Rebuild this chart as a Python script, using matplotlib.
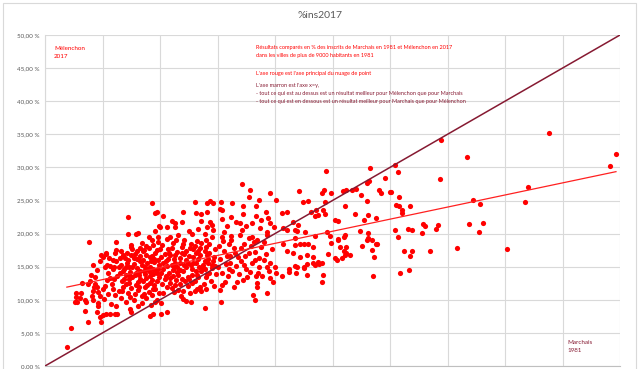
import numpy as np
import matplotlib
matplotlib.use('Agg')
import matplotlib.pyplot as plt
from matplotlib.patches import Rectangle

plt.rcParams['font.family'] = ['Lato', 'DejaVu Sans']

# (Marchais 1981 %, Mélenchon 2017 %), grouped by x band
pts_left = [
    (1.9, 2.9), (2.3, 5.8), (3.7, 6.6), (2.7, 10.4), (2.6, 9.6), (2.8, 9.7), (3.0, 10.2), (2.7, 11.1),
    (3.1, 11.1), (3.2, 12.5), (3.7, 12.4), (3.5, 10.0), (3.5, 8.3), (3.6, 9.7), (3.8, 18.7), (4.2, 15.3),
    (4.35, 13.5), (4.55, 12.0), (4.6, 11.2), (4.8, 10.6), (4.06, 10.5), (4.2, 11.3), (4.26, 12.0), (4.35, 12.4),
    (4.6, 9.1), (4.55, 8.1), (4.8, 7.4), (4.84, 6.6), (5.07, 7.7), (5.3, 7.85), (4.58, 9.5), (4.87, 16.8),
    (4.8, 15.9), (5.07, 16.4), (5.3, 17.0), (5.36, 13.0), (5.65, 13.25), (5.2, 12.1), (6.2, 18.8), (6.15, 17.5),
    (5.25, 14.9), (5.5, 14.0), (5.9, 14.6), (5.4, 15.3), (5.65, 15.1), (5.65, 7.85), (6.1, 7.85), (6.3, 7.8),
    (5.3, 16.9), (6.1, 17.1), (4.0, 13.8), (4.5, 14.5), (3.9, 12.9), (5.0, 11.6), (5.5, 10.9), (5.8, 12.4),
    (5.1, 10.1), (5.7, 9.3), (5.9, 11.7), (4.2, 10.0), (5.9, 16.0), (6.0, 15.0), (5.6, 16.3),
]

pts_6_10 = [
    (9.3, 24.6), (9.57, 23.1), (9.7, 23.2), (7.25, 22.5), (9.9, 21.1), (7.2, 19.9), (7.9, 19.9), (8.06, 20.1),
    (9.6, 20.4), (9.0, 19.5), (9.3, 19.1), (9.85, 19.5), (7.5, 18.3), (7.45, 18.0), (8.26, 17.9), (8.8, 18.1),
    (8.6, 17.5), (9.4, 18.3), (9.7, 17.5), (9.85, 18.8), (6.5, 16.3), (6.96, 16.3), (7.5, 16.8), (7.8, 16.9),
    (8.26, 16.6), (8.55, 17.3), (8.8, 16.8), (9.1, 16.5), (9.6, 17.0), (7.4, 8.6), (7.5, 8.2), (8.1, 9.0),
    (9.1, 7.55), (9.4, 7.85), (9.6, 9.7), (8.8, 10.2), (9.7, 10.0),
    (6.2, 15.8), (6.6, 15.2), (6.9, 14.6), (7.1, 15.6), (7.4, 14.2), (7.7, 15.4), (8.0, 14.8), (8.3, 15.9),
    (8.6, 14.4), (8.9, 15.5), (9.2, 14.1), (9.5, 15.7), (9.8, 14.7), (6.3, 13.6), (6.7, 12.9), (7.0, 13.8),
    (7.3, 12.6), (7.6, 13.4), (7.9, 12.2), (8.2, 13.7), (8.5, 12.8), (8.8, 13.3), (9.1, 12.5), (9.4, 13.9),
    (9.7, 12.9), (9.9, 13.5), (6.4, 11.4), (6.8, 12.0), (7.2, 11.1), (7.5, 11.8), (7.8, 10.9), (8.1, 11.5),
    (8.4, 10.6), (8.7, 11.9), (9.0, 11.2), (9.3, 10.8), (9.6, 11.6), (9.9, 11.0), (6.6, 10.3), (7.0, 9.6),
    (7.7, 9.9), (8.4, 9.5), (9.2, 9.2), (6.2, 9.0), (6.5, 14.0), (7.2, 16.0), (8.0, 16.2), (8.9, 14.6),
    (9.5, 16.2), (6.0, 13.2), (6.8, 16.8), (7.6, 17.6), (8.4, 18.6), (9.1, 15.0), (9.8, 16.0), (7.9, 14.0),
    (8.7, 13.9), (9.3, 13.0), (6.1, 10.8), (7.3, 14.9), (8.2, 12.0), (9.0, 14.3), (9.6, 14.5),
    (6.4, 15.0), (6.8, 14.3), (7.0, 12.4), (7.3, 13.2), (7.6, 15.0), (7.8, 13.8), (8.1, 12.7), (8.3, 14.4),
    (8.5, 16.0), (8.7, 15.0), (8.9, 12.3), (9.1, 13.6), (9.3, 16.6), (9.5, 12.2), (9.7, 14.1), (9.9, 15.3),
    (7.1, 17.0), (8.0, 17.3), (9.0, 17.8), (8.6, 10.9), (7.4, 10.4), (9.4, 11.7), (6.9, 13.2), (6.6, 17.3),
    (7.0, 14.9), (7.7, 16.3), (8.4, 15.3), (9.2, 15.8), (7.4, 13.6), (8.3, 13.1), (9.4, 14.6), (6.7, 11.4),
]

pts_10_15 = [
    (13.0, 24.8), (14.1, 24.6), (14.35, 25.0), (14.6, 24.6), (14.1, 23.2), (13.1, 23.1), (13.6, 23.0), (12.0, 23.2),
    (10.3, 22.7), (11.0, 21.9), (11.3, 21.6), (11.9, 21.8), (13.6, 21.9), (14.35, 21.8), (14.5, 21.3), (10.0, 21.0),
    (10.6, 20.95), (11.3, 20.95), (12.5, 20.4), (13.3, 20.65), (14.06, 20.95), (14.6, 20.5), (10.9, 19.5), (11.6, 19.8),
    (12.75, 19.9), (13.9, 20.0), (14.5, 19.5), (10.1, 7.85), (10.6, 8.1), (13.9, 8.8), (12.0, 10.1), (12.3, 9.8),
    (12.7, 9.7), (14.0, 11.6), (13.5, 12.0), (13.0, 11.4), (13.2, 11.7), (11.2, 11.2), (11.6, 11.5), (12.0, 11.3),
    (11.3, 12.2), (11.7, 12.4), (12.75, 12.6), (10.1, 9.5), (10.3, 11.0),
    (10.2, 18.3), (10.7, 17.6), (11.1, 18.6), (11.5, 17.2), (11.9, 18.0), (12.3, 17.4), (12.7, 18.5), (13.1, 17.0),
    (13.5, 17.9), (13.9, 17.3), (14.3, 18.4), (14.8, 17.6), (10.1, 16.5), (10.5, 15.8), (10.9, 16.8), (11.3, 15.5),
    (11.7, 16.3), (12.1, 15.2), (12.5, 16.6), (12.9, 15.6), (13.3, 16.2), (13.7, 15.3), (14.1, 16.7), (14.6, 15.9),
    (10.3, 14.7), (10.8, 14.0), (11.2, 14.9), (11.6, 13.7), (12.0, 14.4), (12.4, 13.5), (12.8, 14.6), (13.2, 13.8),
    (13.6, 14.3), (14.0, 13.4), (14.5, 14.8), (14.9, 13.9), (10.4, 13.2), (10.9, 12.6), (11.4, 13.0), (12.2, 12.9),
    (13.0, 12.9), (13.8, 12.4), (14.4, 12.9), (10.6, 12.0), (12.6, 11.0), (11.8, 10.5), (14.7, 12.1),
    (10.6, 19.2), (12.1, 19.1), (13.2, 18.9), (14.0, 19.0), (11.0, 15.2), (12.3, 16.0), (13.4, 15.0), (14.2, 15.5),
    (10.8, 17.0), (12.9, 17.7), (11.7, 14.5), (13.9, 14.6),
    (10.1, 14.0), (10.3, 15.6), (10.5, 13.6), (10.7, 16.2), (10.9, 13.3), (11.1, 14.5), (11.3, 16.8), (11.5, 14.2),
    (11.7, 15.6), (11.9, 13.1), (12.1, 16.9), (12.3, 14.9), (12.5, 13.2), (12.7, 15.3), (12.9, 16.4), (13.1, 14.3),
    (13.3, 13.4), (13.5, 16.8), (13.7, 14.8), (13.9, 15.8), (14.1, 13.9), (14.3, 17.1), (14.5, 15.3), (14.7, 16.4),
    (10.0, 17.6), (11.0, 17.9), (12.0, 18.4), (13.0, 18.1), (14.0, 18.0), (10.2, 12.4), (11.0, 11.8), (12.4, 12.1),
    (13.6, 11.3),
    (10.4, 16.9), (11.2, 16.2), (11.9, 17.0), (12.6, 17.9), (13.3, 17.4), (14.2, 16.2), (10.6, 15.1), (11.5, 15.0),
    (12.4, 15.6), (13.1, 15.5), (14.8, 15.1), (11.1, 13.6), (12.8, 13.8), (14.3, 14.1), (13.6, 18.6), (11.4, 19.0),
]

pts_15_20 = [
    (17.1, 27.5), (17.8, 26.6), (19.6, 26.2), (20.1, 25.1), (17.7, 25.5), (15.3, 24.8), (16.3, 24.6), (17.2, 24.1),
    (18.6, 25.1), (18.35, 24.1), (15.2, 23.7), (15.4, 23.5), (16.2, 22.5), (17.2, 23.0), (18.35, 22.7), (19.2, 23.3),
    (19.4, 22.3), (15.4, 22.2), (16.6, 21.8), (16.96, 21.55), (18.0, 21.6), (18.8, 22.05), (19.6, 21.55), (19.9, 20.95),
    (15.8, 21.1), (17.5, 21.1), (18.7, 20.8), (19.3, 20.3), (15.4, 19.5), (16.2, 19.0), (16.96, 19.8), (18.0, 19.5),
    (18.4, 19.0), (19.3, 19.8), (15.3, 9.7), (18.3, 9.9), (18.1, 10.8), (18.4, 11.9), (19.3, 11.0), (19.85, 12.7),
    (19.6, 13.25), (19.3, 15.0), (16.7, 12.7), (16.4, 12.0), (17.2, 13.0), (17.6, 13.5), (18.35, 13.6), (18.85, 13.6),
    (15.2, 11.5), (15.4, 12.2), (15.65, 12.7),
    (15.1, 18.2), (15.6, 17.4), (16.0, 18.5), (16.5, 17.0), (17.0, 17.9), (17.4, 16.6), (17.9, 18.2), (18.3, 17.2),
    (18.8, 18.0), (19.2, 16.9), (19.7, 17.6), (15.2, 16.2), (15.7, 15.4), (16.1, 16.6), (16.6, 15.1), (17.0, 15.8),
    (17.5, 14.6), (18.0, 15.6), (18.6, 14.9), (19.0, 16.0), (19.5, 14.4), (15.4, 14.0), (15.9, 13.6), (16.3, 14.4),
    (16.9, 13.9), (17.8, 14.2), (18.4, 12.6), (15.0, 15.0), (16.2, 19.6), (17.7, 19.3), (19.0, 18.8),
    (15.5, 18.9), (16.4, 17.8), (17.3, 18.5), (18.2, 18.7), (15.8, 16.6), (16.8, 16.4), (17.7, 17.0), (18.6, 16.3),
    (16.1, 15.6), (17.3, 15.2), (18.3, 16.0), (19.6, 15.6), (15.6, 20.3), (17.1, 20.5), (18.5, 14.0), (16.0, 14.6),
]

pts_20_31 = [
    (22.1, 26.5), (24.1, 26.1), (24.3, 26.6), (24.9, 26.2), (25.9, 26.5), (26.2, 26.6), (26.7, 26.6), (27.0, 26.8),
    (27.5, 25.8), (27.97, 27.6), (28.2, 28.0), (29.0, 26.6), (29.2, 26.2), (30.0, 26.3), (24.4, 29.5), (28.3, 29.9),
    (30.4, 30.4), (30.7, 29.35), (29.6, 28.35), (22.4, 24.8), (22.9, 25.0), (24.35, 24.8), (26.1, 24.2), (28.0, 25.0),
    (30.8, 25.6), (30.8, 24.1), (20.6, 23.1), (21.0, 23.2), (23.1, 23.3), (23.6, 23.6), (24.2, 23.6), (23.5, 22.7),
    (23.7, 22.8), (24.35, 22.96), (26.96, 22.96), (28.1, 22.8), (27.7, 22.05), (28.8, 22.3), (21.6, 21.8), (22.0, 21.3),
    (25.2, 22.05), (25.5, 21.95), (20.7, 20.8), (21.0, 20.6), (21.7, 20.6), (21.9, 20.4), (22.6, 20.3), (23.5, 19.7),
    (24.5, 20.3), (24.8, 19.7), (25.5, 19.2), (26.1, 19.8), (27.4, 20.4), (28.1, 20.05), (27.97, 19.0), (28.1, 19.3),
    (28.4, 19.0), (27.6, 18.1), (28.8, 18.5), (30.7, 19.5), (21.7, 19.3), (20.7, 18.5), (21.7, 18.3), (22.2, 18.4),
    (22.5, 18.4), (22.9, 18.4), (23.3, 18.0), (24.9, 18.6), (25.65, 18.0), (26.2, 18.0), (26.0, 17.3), (26.2, 17.0),
    (28.4, 17.5), (21.0, 17.3), (21.6, 17.0), (22.2, 16.5), (22.75, 16.8), (23.3, 16.4), (24.6, 16.9), (25.2, 16.3),
    (25.8, 16.3), (26.5, 16.8), (20.6, 13.6), (21.2, 14.25), (21.2, 14.6), (21.8, 14.1), (21.7, 15.1), (21.9, 14.9),
    (22.5, 14.75), (22.5, 15.0), (22.75, 15.4), (22.75, 13.75), (23.3, 15.6), (23.5, 15.3), (23.7, 15.75), (23.85, 15.4),
    (24.1, 15.6), (24.2, 13.75), (24.1, 12.7), (25.4, 16.0), (28.5, 13.6), (30.9, 14.1), (28.6, 16.5), (20.1, 14.0),
    (20.0, 14.9), (30.5, 24.3), (30.1, 26.3), (30.4, 20.5), (26.0, 19.5), (25.45, 19.1), (28.9, 18.4), (26.1, 16.8),
]

pts_right = [
    (31.0, 23.6), (31.0, 23.1), (31.7, 24.1), (31.6, 20.7), (31.9, 20.5), (31.2, 17.3), (31.9, 17.3), (31.7, 16.6),
    (31.65, 14.5), (32.9, 21.4), (33.0, 21.15), (32.8, 20.1), (33.5, 17.3), (34.2, 21.3), (34.0, 20.65), (34.35, 28.2),
    (34.4, 34.2), (35.85, 17.9), (36.7, 31.6), (37.2, 25.1), (37.8, 24.4), (36.9, 21.4), (38.1, 21.65), (37.7, 20.3),
    (40.2, 17.6), (41.7, 24.8), (42.0, 27.1), (43.85, 35.15), (49.1, 30.25), (49.65, 32.0),
]

diag = [0, 50]          # x = y reference line
y_ticks = list(range(0, 51, 5))

pts = np.array(pts_left + pts_6_10 + pts_10_15 + pts_15_20 + pts_20_31 + pts_right)
marchais, melenchon = pts[:, 0], pts[:, 1]

W, H = 640, 369
fig = plt.figure(figsize=(W / 100, H / 100), dpi=100)
ax = fig.add_axes([45 / W, 3 / H, 575 / W, 331 / H])

ax.set_xlim(0, 50)
ax.set_ylim(0, 50)
ax.set_xticks(y_ticks)
ax.set_yticks(y_ticks)
ax.set_yticklabels([f'{v:.2f} %'.replace('.', ',') for v in y_ticks])
ax.grid(color='#D9D9D9', lw=0.8)
ax.set_axisbelow(True)
ax.tick_params(length=0, labelbottom=False, labelsize=4.5, labelcolor='#595959', pad=4)
for s in ['top', 'right']:
    ax.spines[s].set_visible(False)
ax.spines['left'].set_color('#D9D9D9')
ax.spines['bottom'].set_color('#BFBFBF')

# data
ax.scatter(marchais, melenchon, s=14, color='#FF0000', lw=0, zorder=3)
ax.plot(diag, diag, color='#861A32', lw=1.1, zorder=4)
k, b = np.polyfit(marchais, melenchon, 1)
xs = np.array([marchais.min(), marchais.max()])
ax.plot(xs, k * xs + b, color='#FF2020', lw=0.9, zorder=4)

# texts (pixel positions from the top-left corner)
def txt(px, py, s, color, size=4.0):
    fig.text(px / W, 1 - py / H, s, color=color, fontsize=size, ha='left', va='center')

fig.text(0.5, 1 - 15 / H, '%ins2017', ha='center', va='center', fontsize=7.5, color='#595959')
txt(54, 48, 'Mélenchon', '#FF0000', 4.5)
txt(54, 56.5, '2017', '#FF0000', 4.5)
txt(567, 342, 'Marchais', '#861A32', 4.5)
txt(567, 350, '1981', '#861A32', 4.5)
txt(256, 48, 'Résultats comparés en % des inscrits de Marchais en 1981 et Mélenchon en 2017', '#FF0000')
txt(256, 56, 'dans les villes de plus de 9000 habitants en 1981', '#FF0000')
txt(256, 73, "L'axe rouge est l'axe principal du nuage de point", '#FF0000')
txt(256, 85, "L'axe marron est l'axe x=y,", '#861A32')
txt(256, 93.5, '- tout ce qui est au dessus est un résultat meilleur pour Mélenchon que pour Marchais', '#861A32')
txt(256, 102, '- tout ce qui est en dessous est un résultat meilleur pour Marchais que pour Mélenchon', '#861A32')

# chart frame
fig.patches.append(Rectangle((3 / W, -0.01), 633 / W, 1 - 3 / H + 0.01, transform=fig.transFigure,
                             fill=False, edgecolor='#D9D9D9', lw=0.8))

fig.savefig('out.png', dpi=100)
plt.close(fig)
